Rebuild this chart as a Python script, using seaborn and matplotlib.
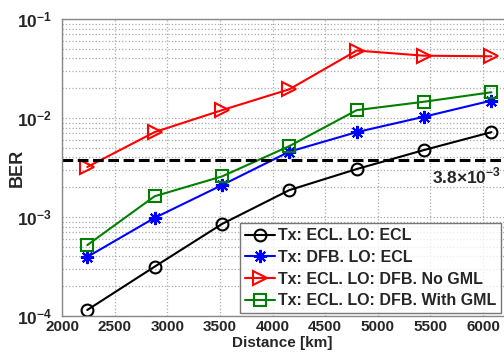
import numpy as np
import pandas as pd
import matplotlib
matplotlib.use("Agg")
import matplotlib.pyplot as plt
import seaborn as sns
from matplotlib.ticker import LogLocator, NullFormatter

distance = [2240, 2880, 3520, 4160, 4800, 5440, 6080]
ber_ecl_ecl = [1.15e-4, 3.15e-4, 8.5e-4, 1.87e-3, 3.05e-3, 4.75e-3, 7.2e-3]
ber_dfb_ecl = [3.95e-4, 9.8e-4, 2.1e-3, 4.57e-3, 7.2e-3, 1.03e-2, 1.5e-2]
ber_dfb_nogml = [3.2e-3, 7.2e-3, 1.2e-2, 1.95e-2, 4.8e-2, 4.26e-2, 4.2e-2]
ber_dfb_gml = [5.2e-4, 1.62e-3, 2.57e-3, 5.2e-3, 1.2e-2, 1.46e-2, 1.82e-2]
labels = ["Tx: ECL. LO: ECL", "Tx: DFB. LO: ECL",
          "Tx: ECL. LO: DFB. No GML", "Tx: ECL. LO: DFB. With GML"]
threshold = 3.8e-3
x_ticks = [2000, 2500, 3000, 3500, 4000, 4500, 5000, 5500, 6000]
y_ticks = [1e-4, 1e-3, 1e-2, 1e-1]
y_ticklabels = [r"$\mathbf{10^{-4}}$", r"$\mathbf{10^{-3}}$", r"$\mathbf{10^{-2}}$", r"$\mathbf{10^{-1}}$"]

sns.set_style("white")
plt.rcParams["font.family"] = ["Liberation Sans", "DejaVu Sans"]
plt.rcParams["font.weight"] = "bold"
plt.rcParams["mathtext.fontset"] = "custom"
plt.rcParams["mathtext.bf"] = "Liberation Sans:bold"
plt.rcParams["mathtext.rm"] = "Liberation Sans:bold"

fig = plt.figure(figsize=(5.04, 3.56), dpi=100)
L, B, T = 62 / 504, 1 - 316 / 356, 1 - 19 / 356
W = 452.6 / 504
ax = fig.add_axes([L, B, W, T - B])

series = [ber_ecl_ecl, ber_dfb_ecl, ber_dfb_nogml, ber_dfb_gml]
colors = ["black", "blue", "red", "green"]
markers = ["o", (8, 2, 0), ">", "s"]
msizes = [8.5, 9.5, 10, 8]
for vals, lab, c, m, ms in zip(series, labels, colors, markers, msizes):
    df = pd.DataFrame({"Distance": distance, "BER": vals})
    sns.lineplot(data=df, x="Distance", y="BER", ax=ax, color=c, marker=m,
                 markersize=ms, markerfacecolor="none", markeredgecolor=c,
                 markeredgewidth=1.5, linewidth=1.5, label=lab)

ax.axhline(threshold, color="black", linestyle=(0, (3.5, 1.5)), linewidth=2.2)
ax.text(5515, 3.3e-3, r"3.8$\times$10$^{\mathbf{-3}}$", fontsize=12.5, fontweight="bold",
        va="top", ha="left")

ax.set_yscale("log")
ax.set_xlim(2000, 6300)
ax.set_ylim(1e-4, 1e-1)
ax.set_xticks(x_ticks)
ax.set_xticklabels([str(v) for v in x_ticks])
ax.set_yticks(y_ticks)
ax.set_yticklabels(y_ticklabels)
ax.yaxis.set_minor_locator(LogLocator(base=10, subs=np.arange(2, 10)))
ax.yaxis.set_minor_formatter(NullFormatter())
ax.grid(which="both", axis="y", linestyle=":", color="#aaaaaa", linewidth=0.9)
ax.grid(which="major", axis="x", linestyle=":", color="#aaaaaa", linewidth=0.9)
ax.tick_params(axis="x", which="major", labelsize=11, direction="in", length=3,
               color="#888888", pad=3)
ax.tick_params(axis="y", which="major", labelsize=12.5, direction="in", length=3,
               color="#888888", pad=7)
ax.tick_params(axis="y", which="minor", direction="in", length=1.5, color="#888888")
for s in ax.spines.values():
    s.set_color("#888888")
    s.set_linewidth(1.0)

ax.set_xlabel("Distance [km]", fontsize=11, fontweight="bold")
ax.xaxis.set_label_coords((282 - 62) / 452.6, -0.066)
ax.set_ylabel("BER", fontsize=13, fontweight="bold")
ax.yaxis.set_label_coords(-(62 - 26) / 452.6, 0.5)

leg = ax.legend(loc="lower left", bbox_to_anchor=((240 - 62) / 452.6, 0.01),
                fontsize=11.5, frameon=True, fancybox=False, handlelength=1.9,
                handletextpad=0.15, borderpad=0.3, labelspacing=0.42,
                borderaxespad=0.0)
leg.get_frame().set_edgecolor("#555555")
leg.get_frame().set_linewidth(1.0)

fig.savefig("out.png", dpi=100)
